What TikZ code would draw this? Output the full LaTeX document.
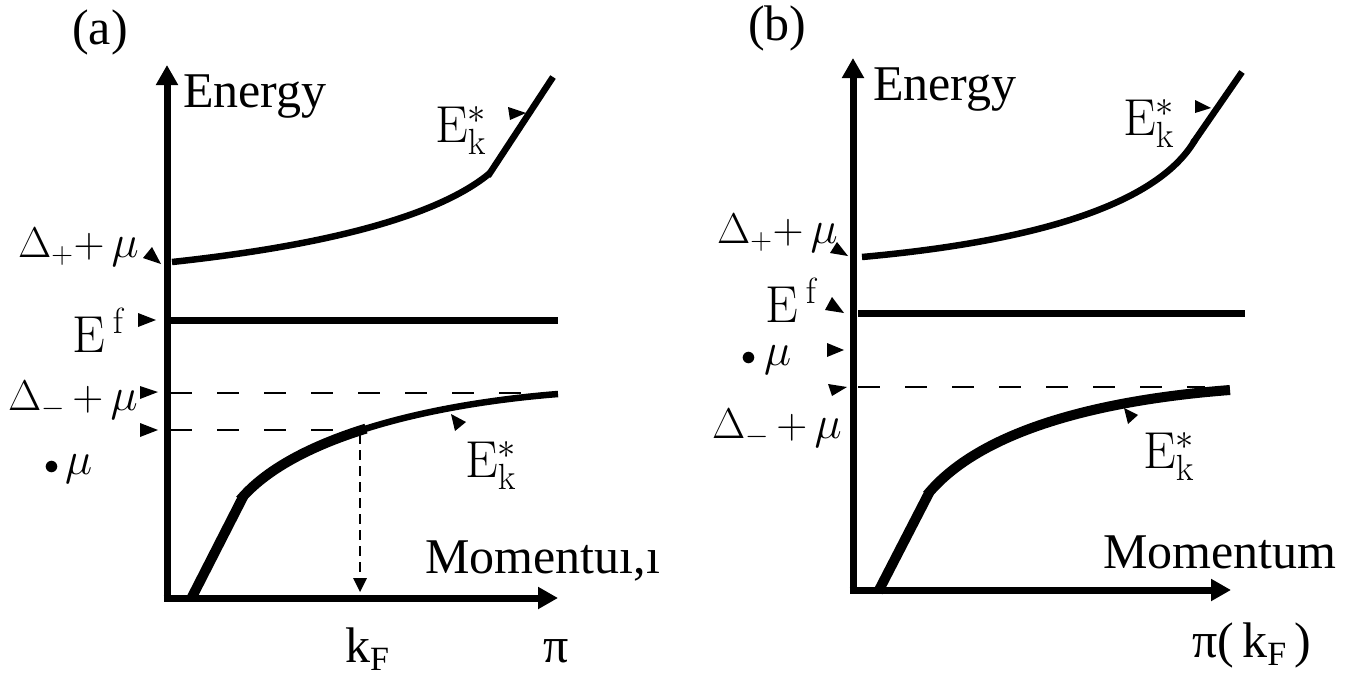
\RequirePackage{fix-cm}
\documentclass[tikz,border=0pt]{standalone}
\usepackage[no-math]{fontspec}
\setmainfont{Liberation Serif}
\usetikzlibrary{arrows.meta}
\newcommand{\kFsub}{k\raisebox{-8pt}{\fontsize{34}{34}\selectfont F}}
\newcommand{\mymu}{\mbox{\fontsize{46}{46}\selectfont$\mu$}}
\newcommand{\smallbul}{\mbox{\fontsize{30}{30}\selectfont$\bullet$}}
\tikzset{
  axisline/.style={line width=7pt, -{Triangle[length=20pt,width=21pt]}},
  curveline/.style={line width=6.5pt},
  thickcurve/.style={line width=10pt},
  dline/.style={line width=2.5pt, dash pattern=on 22pt off 25pt},
  vdline/.style={line width=2.5pt, dash pattern=on 10pt off 6pt},
  tipfill/.style={fill=black},
  txt/.style={anchor=base west, inner sep=0pt, font=\fontsize{50}{50}\selectfont},
  mlab/.style={anchor=base west, inner sep=0pt, font=\fontsize{43}{43}\selectfont},
  elab/.style={anchor=base west, inner sep=0pt, font=\fontsize{52}{52}\selectfont},
}
\begin{document}
\begin{tikzpicture}[x=1pt,y=-1pt]
\useasboundingbox[fill=white] (0,0) rectangle (1370,677);

% ================= panel (a) =================
\draw[axisline] (167,601.5) -- (167,65);
\draw[axisline] (163.5,598) -- (558,598);

% upper band
\draw[curveline] (172,262) .. controls (330,245) and (440,215) .. (490,173);
\draw[curveline] (488,176) -- (553,77);
% E^f level
\draw[line width=7pt] (170,320) -- (558,320);
% dashed levels
\draw[dline] (170,393) -- (556,393);
\draw[dline] (170,430) -- (358,430);
% lower band
\draw[curveline] (240,500) .. controls (290,440) and (420,405) .. (558,394);
\draw[thickcurve] (240,500) .. controls (265,470) and (310,446) .. (366,428.6);
\draw[thickcurve] (191,599) -- (243,497);
% k_F dashed arrow
\draw[vdline] (360,434) -- (360,580);
\fill[tipfill] (353,578) -- (367,578) -- (360,592) -- cycle;

% small arrowheads
\fill[tipfill] (143,258) -- (152,247) -- (161,264) -- cycle;
\fill[tipfill] (138,313) -- (138,327) -- (156,320) -- cycle;
\fill[tipfill] (140,386) -- (140,399) -- (158,392) -- cycle;
\fill[tipfill] (140,423) -- (140,437) -- (158,430) -- cycle;
\fill[tipfill] (508,107) -- (510,120) -- (526,113) -- cycle;
\fill[tipfill] (451,414) -- (455,431) -- (466,422) -- cycle;

% labels
\node[txt] (la) at (72,45) {(a)};
\node[txt] (ena) at (183,107) {Energy};
\node[mlab] (dpa) at (18,257) {$\Delta_{+}{+}\,$\mymu};
\node[elab] (efa) at (72,352) {$\mathrm{E}^{\kern8pt\mathrm{f}}$};
\node[mlab] (dma) at (8,410) {$\Delta_{-}\,{+}\,$\mymu};
\node[mlab] (mua) at (44,474) {\smallbul\kern6pt\mymu};
\node[elab] (eka) at (435,142) {$\mathrm{E}_{\mathrm{k}}^{*}$};
\node[elab] (ekla) at (465,477) {$\mathrm{E}_{\mathrm{k}}^{*}$};
\node[txt] (kfa) at (345,662) {\kFsub};
\node[txt] (pia) at (543,662) {π};
\node[txt] (moma) at (425,573) {Momentuı,ı};

% ================= panel (b) =================
\draw[axisline] (853,593.5) -- (853,58);
\draw[axisline] (849.5,590) -- (1231,590);

\draw[curveline] (862,257) .. controls (1050,240) and (1160,200) .. (1195,140);
\draw[curveline] (1193,143) -- (1242,72);
\draw[line width=7pt] (858,313) -- (1245,313);
\draw[dline] (858,387) -- (1205,387);
\draw[thickcurve] (927,495) .. controls (980,430) and (1100,400) .. (1230,390);
\draw[thickcurve] (878,592) -- (929,493);

\fill[tipfill] (830,253) -- (837,242) -- (848,256) -- cycle;
\fill[tipfill] (825,310) -- (832,297) -- (844,313) -- cycle;
\fill[tipfill] (827,343) -- (827,357) -- (844,350) -- cycle;
\fill[tipfill] (828,384) -- (832,396) -- (847,387) -- cycle;
\fill[tipfill] (1195,100) -- (1195,113) -- (1211,108) -- cycle;
\fill[tipfill] (1124,408) -- (1128,424) -- (1138,415) -- cycle;

\node[txt] (lb) at (748,41) {(b)};
\node[txt] (enb) at (873,100) {Energy};
\node[mlab] (dpb) at (717,243) {$\Delta_{+}{+}\,$\mymu};
\node[elab] (efb) at (765,322) {$\mathrm{E}^{\kern8pt\mathrm{f}}$};
\node[mlab] (mub) at (741,365) {\smallbul\kern8pt\mymu};
\node[mlab] (dmb) at (712,438) {$\Delta_{-}\,{+}\,$\mymu};
\node[elab] (ekb) at (1123,135) {$\mathrm{E}_{\mathrm{k}}^{*}$};
\node[elab] (eklb) at (1143,468) {$\mathrm{E}_{\mathrm{k}}^{*}$};
\node[txt] (momb) at (1103,568) {Momentum};
\node[txt] (pib) at (1192,657) {π(\,\kFsub\,)};
\end{tikzpicture}
\end{document}
